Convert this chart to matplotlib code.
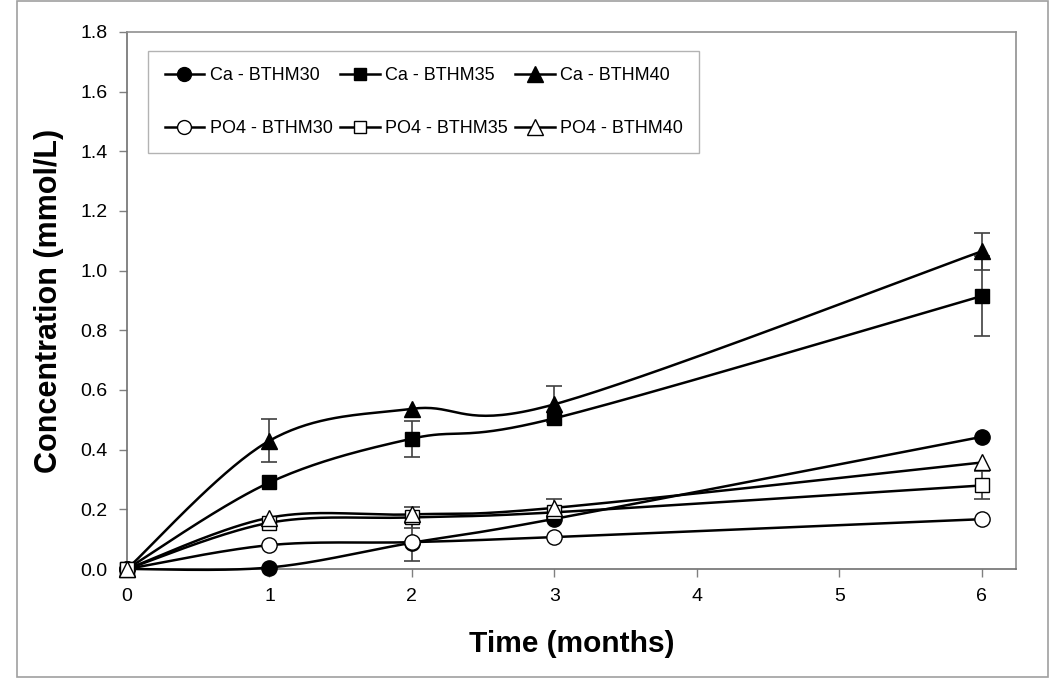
import numpy as np
import matplotlib
matplotlib.use("Agg")
import matplotlib.pyplot as plt
from matplotlib.lines import Line2D
from matplotlib.patches import Rectangle

plt.rcParams['font.family'] = ['Liberation Sans', 'DejaVu Sans']

# data
months = [0, 1, 2, 3, 6]
ca_30 = [0.0, 0.005, 0.088, 0.168, 0.443]
ca_35 = [0.0, 0.29, 0.437, 0.505, 0.915]
ca_40 = [0.0, 0.43, 0.537, 0.552, 1.065]
po4_30 = [0.0, 0.08, 0.09, 0.107, 0.167]
po4_35 = [0.0, 0.155, 0.173, 0.19, 0.28]
po4_40 = [0.0, 0.172, 0.183, 0.205, 0.357]

ca_30_err = [0, 0, 0, 0, 0]
ca_35_err = [0, 0, 0.06, 0, 0.135]
ca_40_err = [0, 0.073, 0, 0.06, 0.062]
po4_30_err = [0, 0, 0.064, 0, 0]
po4_35_err = [0, 0, 0.035, 0, 0.047]
po4_40_err = [0, 0, 0, 0.03, 0]

labels = ['Ca - BTHM30', 'Ca - BTHM35', 'Ca - BTHM40',
          'PO4 - BTHM30', 'PO4 - BTHM35', 'PO4 - BTHM40']
series = [ca_30, ca_35, ca_40, po4_30, po4_35, po4_40]
errors = [ca_30_err, ca_35_err, ca_40_err, po4_30_err, po4_35_err, po4_40_err]
markers = ['o', 's', '^', 'o', 's', '^']
faces = ['black', 'black', 'black', 'white', 'white', 'white']
msizes = [11, 10, 12, 11, 10, 12]

XMAX = 6.24
YMAX = 1.8


def smooth(x, y, sx, sy, n=40):
    # excel-like smoothed line (catmull-rom bezier in screen space)
    p = np.column_stack([np.asarray(x, float) * sx, np.asarray(y, float) * sy])
    out = [p[0]]
    for i in range(len(p) - 1):
        p0 = p[i - 1] if i > 0 else p[i]
        p1, p2 = p[i], p[i + 1]
        p3 = p[i + 2] if i + 2 < len(p) else p[i + 1]
        c1 = p1 + (p2 - p0) / 6
        c2 = p2 - (p3 - p1) / 6
        t = np.linspace(0, 1, n)[1:, None]
        b = ((1 - t) ** 3 * p1 + 3 * (1 - t) ** 2 * t * c1
             + 3 * (1 - t) * t ** 2 * c2 + t ** 3 * p2)
        out.extend(b)
    out = np.array(out)
    return out[:, 0] / sx, out[:, 1] / sy


fig = plt.figure(figsize=(10.5, 6.88), dpi=100)
ax = fig.add_axes([127 / 1050, 1 - 569 / 688, 889 / 1050, 537 / 688])

# pixel scale of the axes, used for the smoothing
sx = 889 / XMAX
sy = 537 / YMAX

handles = []
for k, (ys, err) in enumerate(zip(series, errors)):
    xs_s, ys_s = smooth(months, ys, sx, sy)
    ax.plot(xs_s, ys_s, color='black', lw=1.8, zorder=3 + k * 0.1, clip_on=False)
    idx = [i for i, e in enumerate(err) if e > 0]
    if idx:
        ax.errorbar([months[i] for i in idx], [ys[i] for i in idx],
                    yerr=[err[i] for i in idx], fmt='none', ecolor='#404040',
                    elinewidth=1.2, capsize=6, capthick=1.2, zorder=2)
    ax.plot(months, ys, ls='none', marker=markers[k], ms=msizes[k],
            mfc=faces[k], mec='black', mew=1.0, zorder=5 + k * 0.1, clip_on=False)
    handles.append(Line2D([], [], color='black', lw=1.8, marker=markers[k],
                          ms=msizes[k] - 1, mfc=faces[k], mec='black', mew=1.0))

ax.set_xlim(0, XMAX)
ax.set_ylim(0, YMAX)
ax.set_xticks(range(0, 7))
ax.set_yticks(np.arange(0, 1.81, 0.2))
ax.set_yticklabels([f'{v:.1f}' for v in np.arange(0, 1.81, 0.2)])
ax.tick_params(direction='out', length=6, width=1, color='#808080',
               labelsize=14, pad=8)
for s in ax.spines.values():
    s.set_color('#909090')
    s.set_linewidth(1.2)
ax.spines['left'].set_color('#707070')
ax.spines['bottom'].set_color('#707070')

ax.set_xlabel('Time (months)', fontsize=21.5, fontweight='bold', labelpad=18)
ax.set_ylabel('Concentration (mmol/L)', fontsize=22, fontweight='bold', labelpad=12)

# legend fills column-wise, so interleave rows
order = [0, 3, 1, 4, 2, 5]
leg = ax.legend([handles[i] for i in order], [labels[i] for i in order],
                ncol=3, loc='upper left', bbox_to_anchor=(0.024, 0.965),
                borderaxespad=0, fontsize=13, frameon=True, fancybox=False,
                handlelength=2.2, handletextpad=0.3, columnspacing=0.4,
                labelspacing=2.0, borderpad=0.9)
leg.get_frame().set_edgecolor('#a0a0a0')
leg.get_frame().set_linewidth(1.0)

# outer chart border
fig.patches.append(Rectangle((17 / 1050, 1 - 677 / 688), 1031 / 1050, 676 / 688,
                             transform=fig.transFigure, fill=False,
                             edgecolor='#a0a0a0', lw=1.2))

fig.savefig('out.png', dpi=100)
